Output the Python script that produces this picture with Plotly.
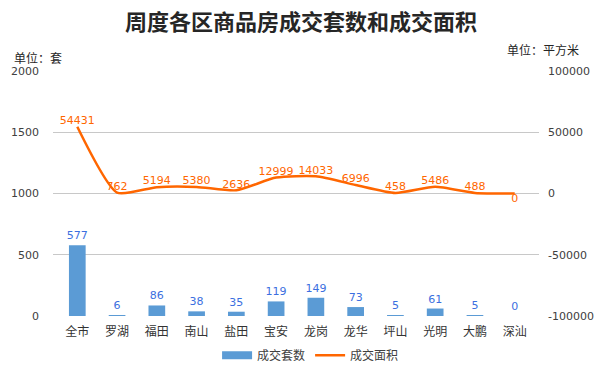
import plotly.graph_objects as go

categories = ["全市", "罗湖", "福田", "南山", "盐田", "宝安", "龙岗", "龙华", "坪山", "光明", "大鹏", "深汕"]
units_sold = [577, 6, 86, 38, 35, 119, 149, 73, 5, 61, 5, 0]
area_sold = [54431, 762, 5194, 5380, 2636, 12999, 14033, 6996, 458, 5486, 488, 0]
area_label_pos = ["top center"] * 11 + ["bottom center"]
left_tick_vals = [0, 500, 1000, 1500, 2000]
left_tick_text = ["0", "500", "1000", "1500", "2000"]
right_tick_vals = [-100000, -50000, 0, 50000, 100000]
right_tick_text = ["-100000", "-50000", "0", "50000", "100000"]

FONT = "Noto Sans CJK SC"
NUMFONT = "DejaVu Sans"
BLUE = "#5B9BD5"
ORANGE = "#FF6600"

fig = go.Figure()
fig.add_trace(go.Bar(
    x=categories, y=units_sold, name="成交套数", showlegend=False,
    marker=dict(color=BLUE, line=dict(width=0)),
    text=[str(v) for v in units_sold], textposition="outside",
    textfont=dict(color="#3B6FE0", size=11, family=NUMFONT),
    constraintext="none",
    cliponaxis=False, width=0.42,
))
# legend entry for bars (wide rectangle swatch as in reference)
fig.add_trace(go.Scatter(
    x=[None], y=[None], name="成交套数", mode="lines",
    line=dict(color=BLUE, width=8),
))
fig.add_trace(go.Scatter(
    x=categories, y=area_sold, name="成交面积", yaxis="y2",
    mode="lines+text",
    line=dict(color=ORANGE, width=2.5, shape="spline", smoothing=0.6),
    text=[str(v) for v in area_sold], textposition=area_label_pos,
    textfont=dict(color=ORANGE, size=11, family=NUMFONT),
    cliponaxis=False,
))

fig.update_layout(
    width=602, height=370,
    margin=dict(l=53, r=63, t=71, b=54, autoexpand=False),
    paper_bgcolor="white", plot_bgcolor="white",
    title=dict(text="<b>周度各区商品房成交套数和成交面积</b>", x=0.5, xanchor="center",
               y=0.94, yanchor="middle",
               font=dict(family=FONT, size=22, color="#262626")),
    font=dict(family=FONT, size=12, color="#404040"),
    showlegend=True,
    xaxis=dict(showgrid=False, showline=False, ticks="", ticklabelstandoff=7,
               tickfont=dict(size=12, family=FONT, color="#333333")),
    yaxis=dict(range=[0, 2000], tickvals=left_tick_vals, ticktext=left_tick_text,
               showgrid=True, gridcolor="#C8C8C8", gridwidth=1,
               zeroline=False, showline=False, ticks="", ticklabelstandoff=13,
               tickfont=dict(family=NUMFONT, size=11, color="#404040")),
    yaxis2=dict(range=[-100000, 100000], tickvals=right_tick_vals, ticktext=right_tick_text,
                overlaying="y", side="right",
                showgrid=False, zeroline=False, showline=False, ticks="", ticklabelstandoff=8,
                tickfont=dict(family=NUMFONT, size=11, color="#404040")),
    legend=dict(orientation="h", x=0.53, xanchor="center", y=-0.16, yanchor="middle",
                font=dict(family=FONT, size=12, color="#404040"), traceorder="normal",
                itemwidth=30),
    annotations=[
        dict(text="单位：套", xref="paper", yref="paper", x=-0.084, y=1.057,
             xanchor="left", yanchor="middle", showarrow=False,
             font=dict(family=FONT, size=12, color="#262626")),
        dict(text="单位：平方米", xref="paper", yref="paper", x=1.086, y=1.086,
             xanchor="right", yanchor="middle", showarrow=False,
             font=dict(family=FONT, size=12, color="#262626")),
    ],
)

fig.write_html("out.html", config={"displayModeBar": False},
               post_script="document.body.style.margin='0';")
